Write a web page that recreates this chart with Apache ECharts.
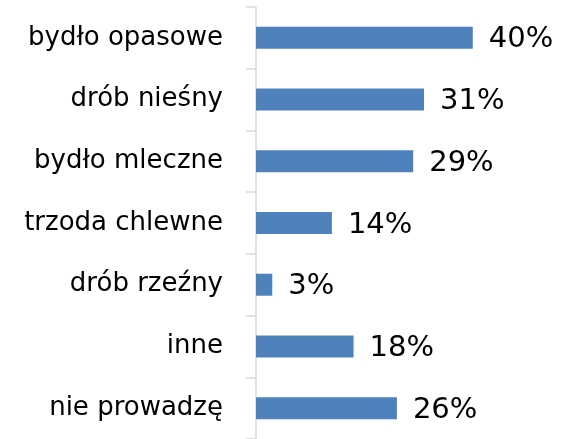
<!DOCTYPE html>
<html>
<head>
<meta charset="utf-8">
<script src="https://cdn.jsdelivr.net/npm/echarts@6/dist/echarts.min.js"></script>
<style>
  html, body { margin: 0; padding: 0; background: #fff; }
  #chart { width: 571px; height: 439px; }
</style>
</head>
<body>
<div id="chart"></div>
<script>
// kategorie i udziały (%)
const categories = ['bydło opasowe', 'drób nieśny', 'bydło mleczne', 'trzoda chlewne', 'drób rzeźny', 'inne', 'nie prowadzę']
const shares = [40, 31, 29, 14, 3, 18, 26]

const chart = echarts.init(document.getElementById('chart'))
chart.setOption({
  animation: false,
  grid: {
    left: 256,
    top: 7,
    right: 44,
    bottom: -2
  },
  xAxis: {
    type: 'value',
    min: 0,
    max: 50,
    show: false
  },
  yAxis: {
    type: 'category',
    inverse: true,
    data: categories,
    axisLine: {
      show: true,
      lineStyle: { color: '#d9d9d9', width: 1.5 }
    },
    axisTick: {
      show: true,
      length: 10,
      lineStyle: { color: '#d9d9d9', width: 1.5 }
    },
    axisLabel: {
      margin: 33,
      color: '#000',
      fontFamily: 'DejaVu Sans',
      fontSize: 26
    }
  },
  series: [{
    type: 'bar',
    data: shares,
    barWidth: 22,
    itemStyle: { color: '#4f81bd' },
    label: {
      show: true,
      position: 'right',
      distance: 16,
      offset: [0, 2],
      formatter: '{c}%',
      color: '#000',
      fontFamily: 'DejaVu Sans',
      fontSize: 29
    }
  }]
})
</script>
</body>
</html>
